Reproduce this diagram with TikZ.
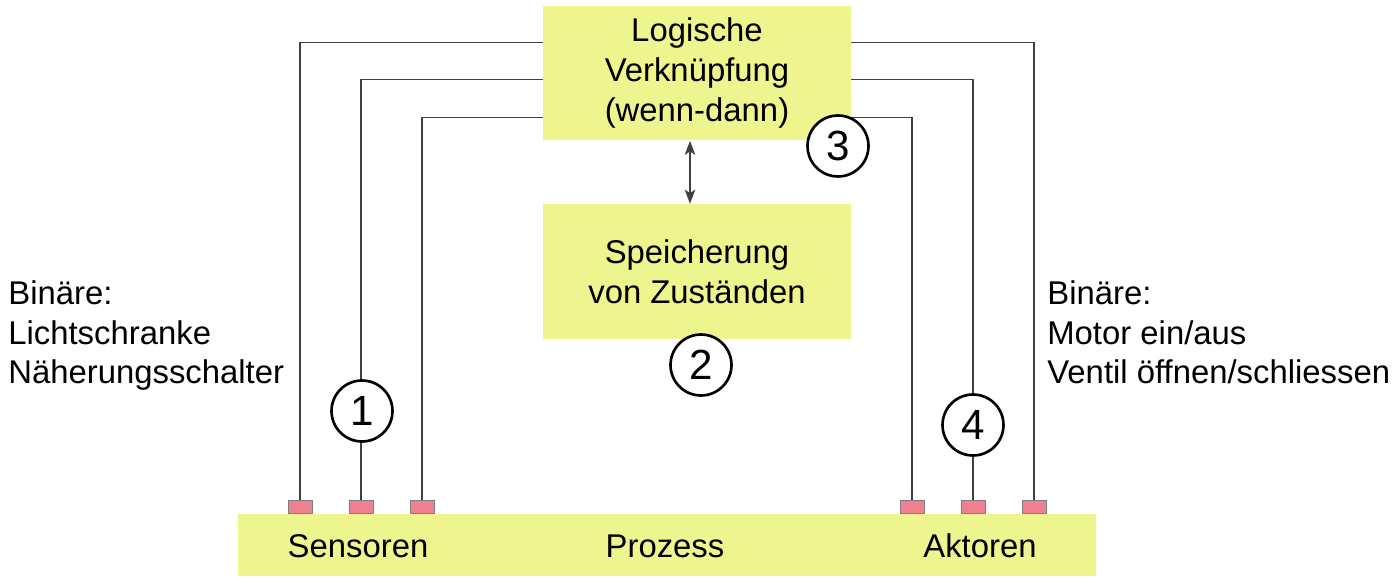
\documentclass[tikz,border=0pt]{standalone}
\usepackage{fontspec}
\setmainfont{Liberation Sans}
\usepackage{tikz}
\usetikzlibrary{arrows.meta, positioning}
\definecolor{spsyellow}{HTML}{EEF48E}
\definecolor{spspink}{HTML}{EE8090}
\definecolor{spsline}{HTML}{404040}

\begin{document}
\begin{tikzpicture}[
  x=0.02cm, y=-0.02cm,
  >={Stealth[length=8pt,width=6pt,inset=2pt]},
  block/.style={
    fill=spsyellow, draw=none, align=center,
    minimum width=6.16cm, minimum height=2.7cm,
    font=\fontsize{18.7}{22.7}\selectfont
  },
  prozess/.style={
    fill=spsyellow, draw=none,
    minimum width=17.16cm, minimum height=1.24cm
  },
  port/.style={
    fill=spspink, draw=gray, line width=0.4pt, anchor=south,
    minimum width=0.48cm, minimum height=0.26cm, inner sep=0pt
  },
  nummer/.style={
    circle, draw=black, line width=1.5pt, fill=white,
    minimum size=1.22cm, inner sep=0pt,
    font=\fontsize{24}{28}\selectfont
  },
  label/.style={
    font=\fontsize{18.7}{22.7}\selectfont
  },
  info/.style={
    align=left, anchor=north west, inner sep=0pt,
    font=\fontsize{18.7}{22.7}\selectfont
  },
  wire/.style={draw=spsline, line width=0.7pt},
  arr/.style={<->, draw=spsline, line width=0.6pt},
]
\useasboundingbox (0,0) rectangle (1400,584);

% Blocks
\node[block] (logik) at (697,73) {Logische\\Verknüpfung\\(wenn-dann)};
\node[block] (speicher) at (697,271.5) {Speicherung\\von Zuständen};
\node[prozess] (prozess) at (667,545) {};

% Labels in the process
\node[label] (sens) at (358,546) {Sensoren};
\node[label] (proz) at (665,546) {Prozess};
\node[label] (akt) at (980,546) {Aktoren};

% Ports
\node[port] (s1) at (300,514) {};
\node[port] (s2) at (361,514) {};
\node[port] (s3) at (422,514) {};
\node[port] (a1) at (912,514) {};
\node[port] (a2) at (973,514) {};
\node[port] (a3) at (1034,514) {};

% Wires
\draw[wire] (s1.north) |- ([yshift=-0.74cm]logik.north west);
\draw[wire] (s2.north) |- ([yshift=-1.48cm]logik.north west);
\draw[wire] (s3.north) |- ([yshift=-2.24cm]logik.north west);
\draw[wire] (a1.north) |- ([yshift=-2.24cm]logik.north east);
\draw[wire] (a2.north) |- ([yshift=-1.48cm]logik.north east);
\draw[wire] (a3.north) |- ([yshift=-0.74cm]logik.north east);

% Logic <-> memory
\draw[arr] ([xshift=-0.14cm]logik.south) -- ([xshift=-0.14cm]speicher.north);

% Numbers
\node[nummer] (n1) at (362,411) {1};
\node[nummer] (n2) at (701,365) {2};
\node[nummer] (n3) at (838,146) {3};
\node[nummer] (n4) at (973,425) {4};

% Side texts
\node[info] (eingang) at (8,280) {Binäre:\\Lichtschranke\\Näherungsschalter};
\node[info] (ausgang) at (1047,280) {Binäre:\\Motor ein/aus\\Ventil öffnen/schliessen};

\end{tikzpicture}
\end{document}
